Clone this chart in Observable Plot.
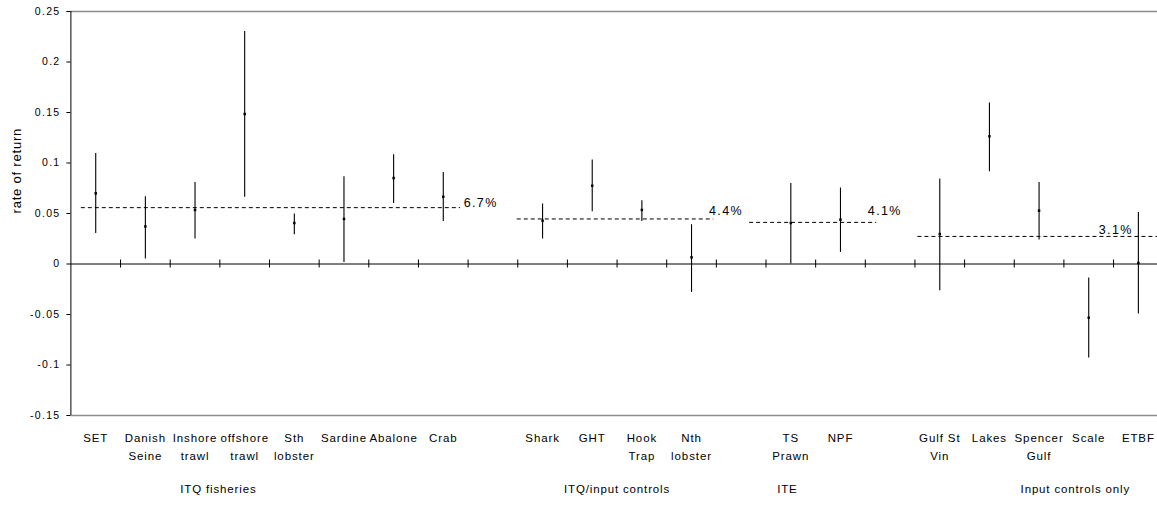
<!DOCTYPE html>
<html><head><meta charset="utf-8">
<script src="https://cdn.jsdelivr.net/npm/d3@7"></script>
<script src="https://cdn.jsdelivr.net/npm/@observablehq/plot@0.6"></script>
<style>
body{margin:0;background:#fff;overflow:hidden}
</style>
</head><body><div id="chart"></div>
<script>
// ---- data ----
const categories = ["SET","Danish\nSeine","Inshore\ntrawl","offshore\ntrawl","Sth\nlobster","Sardine","Abalone","Crab","",
  "Shark","GHT","Hook\nTrap","Nth\nlobster","","TS\nPrawn","NPF","","Gulf St\nVin","Lakes","Spencer\nGulf","Scale","ETBF"];
const estimates = [0.0700,0.0372,0.0535,0.1485,0.0406,0.0446,0.0851,0.0666,null,
  0.0429,0.0775,0.0535,0.0066,null,0.0406,0.0439,null,0.0297,0.1264,0.0528,-0.0532,0.0010];
const lower = [0.0303,0.0050,0.0248,0.0660,0.0290,0.0016,0.0600,0.0422,null,
  0.0248,0.0518,0.0422,-0.0281,null,0.0000,0.0115,null,-0.0264,0.0914,0.0238,-0.0931,-0.0495];
const upper = [0.1095,0.0666,0.0808,0.2303,0.0495,0.0864,0.1082,0.0907,null,
  0.0594,0.1030,0.0627,0.0389,null,0.0798,0.0752,null,0.0841,0.1594,0.0808,-0.0139,0.0511];

const groupNames = ["ITQ fisheries","ITQ/input controls","ITE","Input controls only"];
const groupMeans = [0.0558,0.0446,0.0412,0.0273];
const groupMeanLabels = ["6.7%","4.4%","4.1%","3.1%"];
const groupLineStart = [0.21,8.99,13.67,17.06];
const groupLineEnd = [7.85,12.95,16.23,22];
const groupLabelAt = [2.97,11.0,14.43,20.23];
const meanLabelAt = [7.91,12.85,16.05,20.7];

const yTicks = [0.25,0.2,0.15,0.1,0.05,0,-0.05,-0.1,-0.15];
const yTickLabels = ["0.25","0.2","0.15","0.1","0.05","0","-0.05","-0.1","-0.15"];
const yTitle = "rate of return";

// ---- tables ----
const cats = categories.map((c,i)=>({x:i+0.5,label:c,est:estimates[i],lo:lower[i],hi:upper[i]}));
const bars = cats.filter(d=>d.est!=null);
const meanLift = [-5,-7.5,-11,-6.5]; // label offset above the dashed line (px)
const groups = groupNames.map((n,i)=>({name:n,mean:groupMeans[i],pct:groupMeanLabels[i],
  start:groupLineStart[i],end:groupLineEnd[i],at:groupLabelAt[i],labelAt:meanLabelAt[i],lift:meanLift[i]}));
const boundaries = d3.range(1, categories.length);

const chart = Plot.plot({
  width: 1157, height: 508,
  marginTop: 11, marginBottom: 93, marginLeft: 70.4, marginRight: 0,
  x: {domain: [0, categories.length], range: [70.4, 1162.7], axis: null},
  y: {domain: [-0.15, 0.25], axis: null},
  style: {fontFamily: "'Liberation Sans', Arial, sans-serif", background: "#fff", overflow: "hidden", color: "#000"},
  marks: [
    Plot.ruleY([0.25, -0.15], {stroke: "#8c8c8c", strokeWidth: 1.5}),
    Plot.ruleX([0], {stroke: "#000"}),
    Plot.axisY(yTicks, {tickSize: 4, tickPadding: 6.4, fontSize: 10.5,
      tickFormat: d => yTickLabels[yTicks.indexOf(d)]}),
    Plot.ruleY([0], {stroke: "#000"}),
    Plot.ruleX(boundaries, {x: d=>d, y1: 0, y2: 0, insetTop: -4, insetBottom: -4, stroke: "#000"}),
    Plot.ruleX(bars, {x: "x", y1: "lo", y2: "hi", stroke: "#000", strokeWidth: 1.1}),
    Plot.dot(bars, {x: "x", y: "est", symbol: "square", r: 1.4, fill: "#000", stroke: null}),
    Plot.ruleY(groups, {y: "mean", x1: "start", x2: "end", stroke: "#000", strokeDasharray: "4,3"}),
    ...groups.map(g => Plot.text([g], {x: "labelAt", y: "mean", text: "pct", textAnchor: "start",
      dy: g.lift, fontSize: 12.5})),
    Plot.text(cats, {x: "x", text: "label", frameAnchor: "bottom", lineAnchor: "top", dy: 14, fontSize: 11.5, lineHeight: 18/11.5}),
    Plot.text(groups, {x: "at", text: "name", frameAnchor: "bottom", dy: 77, fontSize: 11.5}),
    Plot.text([yTitle], {frameAnchor: "left", rotate: -90, dx: -53.7, fontSize: 13})
  ]
});
document.getElementById("chart").append(chart);
// letter spacing tweaks by text content
const pctSet = new Set(groupMeanLabels), tickSet = new Set(yTickLabels),
      catSet = new Set(categories.flatMap(c => c.split("\n"))), grpSet = new Set(groupNames);
chart.querySelectorAll("text, tspan").forEach(t => {
  if (t.tagName === "text" && t.querySelector("tspan")) return;
  const s = t.textContent;
  if (s === yTitle) t.style.letterSpacing = "0.8px";
  else if (pctSet.has(s)) t.style.letterSpacing = "1.4px";
  else if (tickSet.has(s)) t.style.letterSpacing = "1.3px";
  else if (grpSet.has(s)) t.style.letterSpacing = "0.85px";
  else if (catSet.has(s)) t.style.letterSpacing = "0.9px";
});
</script>
</body></html>
